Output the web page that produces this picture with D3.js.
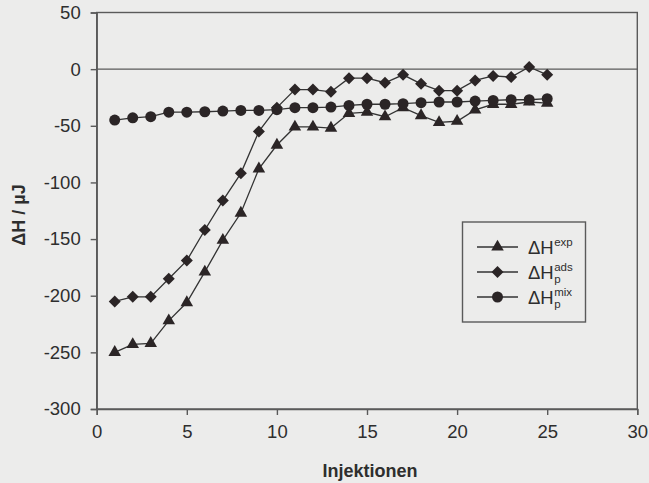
<!DOCTYPE html>
<html>
<head>
<meta charset="utf-8">
<script src="https://cdn.jsdelivr.net/npm/d3@7/dist/d3.min.js"></script>
<style>
  html, body { margin: 0; padding: 0; background: #ececeb; }
  svg { display: block; }
  text { font-family: "Liberation Sans", Arial, sans-serif; fill: #2e2e2e; }
</style>
</head>
<body>
<svg id="chart" width="649" height="483"></svg>
<script>
// Injection number (1..25)
const injections = d3.range(1, 26);

// Measured heat per injection, µJ
const hExp = [-250, -243, -242, -222, -206, -179, -151, -127, -88, -67,
              -51, -51, -52, -39, -38, -42, -34, -41, -47, -46,
              -36, -31, -31, -29, -30];

// Adsorption contribution ΔH_p^ads, µJ
const hAds = [-205, -201, -201, -185, -169, -142, -116, -92, -55, -34,
              -18, -18, -20, -8, -8, -12, -5, -13, -19, -19,
              -10, -6, -7, 2, -5];

// Mixing contribution ΔH_p^mix, µJ
const hMix = [-45, -43, -42, -38, -38, -37.6, -37, -36.4, -36.4, -35.8,
              -34, -34, -33.5, -32, -31, -31, -30.5, -29.6, -29, -29,
              -28.2, -27.6, -27, -27, -26.1];

const xTicks = [0, 5, 10, 15, 20, 25, 30];
const yTicks = [50, 0, -50, -100, -150, -200, -250, -300];

const svg = d3.select("#chart");
const ink = "#333";
const axisInk = "#5a5a5a";
const fmt = d => String(d); // plain hyphen-minus

const x = d3.scaleLinear().domain([0, 30]).range([96.7, 637.3]);
const y = d3.scaleLinear().domain([-300, 50]).range([409, 12.5]);

// plot frame
svg.append("rect")
  .attr("x", x(0)).attr("y", y(50))
  .attr("width", x(30) - x(0)).attr("height", y(-300) - y(50))
  .attr("fill", "none").attr("stroke", axisInk).attr("stroke-width", 1.4);

// zero line
svg.append("line")
  .attr("x1", x(0)).attr("x2", x(30))
  .attr("y1", y(0)).attr("y2", y(0))
  .attr("stroke", axisInk).attr("stroke-width", 1.4);

// axes
const xAxis = d3.axisBottom(x).tickValues(xTicks).tickSize(6).tickPadding(10)
  .tickFormat(fmt);
const gx = svg.append("g").attr("transform", `translate(0,${y(-300)})`).call(xAxis);
gx.select(".domain").attr("stroke", axisInk).attr("stroke-width", 1.4);
gx.selectAll(".tick line").attr("stroke", axisInk).attr("stroke-width", 1.4);
gx.selectAll(".tick text").attr("font-size", 18.5).attr("fill", "#2e2e2e")
  .attr("font-family", "Liberation Sans, Arial, sans-serif");

const yAxis = d3.axisLeft(y).tickValues(yTicks).tickSize(6).tickPadding(10)
  .tickFormat(fmt);
const gy = svg.append("g").attr("transform", `translate(${x(0)},0)`).call(yAxis);
gy.select(".domain").attr("stroke", axisInk).attr("stroke-width", 1.4);
gy.selectAll(".tick line").attr("stroke", axisInk).attr("stroke-width", 1.4);
gy.selectAll(".tick text").attr("font-size", 18.5).attr("fill", "#2e2e2e")
  .attr("font-family", "Liberation Sans, Arial, sans-serif");

// axis titles
svg.append("text")
  .attr("x", (x(0) + x(30)) / 2 + 3).attr("y", 477)
  .attr("text-anchor", "middle").attr("font-size", 18).attr("font-weight", "bold")
  .text("Injektionen");

svg.append("text")
  .attr("transform", `translate(25,${215}) rotate(-90)`)
  .attr("text-anchor", "middle").attr("font-size", 18).attr("font-weight", "bold")
  .text("ΔH / µJ");

// series
const markerFill = "#2b2526";
const series = [
  { name: "exp", values: hExp, symbol: d3.symbolTriangle, size: 68, rotate: 0 },
  { name: "ads", values: hAds, symbol: d3.symbolSquare, size: 72, rotate: 45 },
  { name: "mix", values: hMix, symbol: d3.symbolCircle, size: 95, rotate: 0 }
];

const line = d3.line().x((d, i) => x(injections[i])).y(d => y(d));

series.forEach(s => {
  svg.append("path")
    .attr("d", line(s.values))
    .attr("fill", "none").attr("stroke", ink).attr("stroke-width", 1.3);
});
series.forEach(s => {
  const sym = d3.symbol().type(s.symbol).size(s.size);
  svg.append("g").selectAll("path")
    .data(s.values)
    .join("path")
    .attr("d", sym)
    .attr("transform", (d, i) => `translate(${x(injections[i])},${y(d)}) rotate(${s.rotate})`)
    .attr("fill", markerFill);
});

// legend
const lg = svg.append("g");
lg.append("rect")
  .attr("x", 462.5).attr("y", 222).attr("width", 123).attr("height", 100)
  .attr("fill", "none").attr("stroke", axisInk).attr("stroke-width", 1.4);

const rows = [247, 272, 297];
const labels = [
  { sup: "exp", sub: null },
  { sup: "ads", sub: "p" },
  { sup: "mix", sub: "p" }
];
series.forEach((s, i) => {
  const ry = rows[i];
  lg.append("line").attr("x1", 477).attr("x2", 518).attr("y1", ry).attr("y2", ry)
    .attr("stroke", ink).attr("stroke-width", 1.3);
  lg.append("path")
    .attr("d", d3.symbol().type(s.symbol).size(s.size))
    .attr("transform", `translate(497.5,${ry}) rotate(${s.rotate})`)
    .attr("fill", markerFill);
  const t = lg.append("text").attr("x", 528).attr("y", ry + 7)
    .attr("font-size", 18.5).text("ΔH");
  const w = t.node().getComputedTextLength();
  lg.append("text").attr("x", 528 + w + 0.5).attr("y", ry - 1)
    .attr("font-size", 11.5).text(labels[i].sup);
  if (labels[i].sub) {
    lg.append("text").attr("x", 528 + w + 0.5).attr("y", ry + 11)
      .attr("font-size", 11.5).text(labels[i].sub);
  }
});
</script>
</body>
</html>
